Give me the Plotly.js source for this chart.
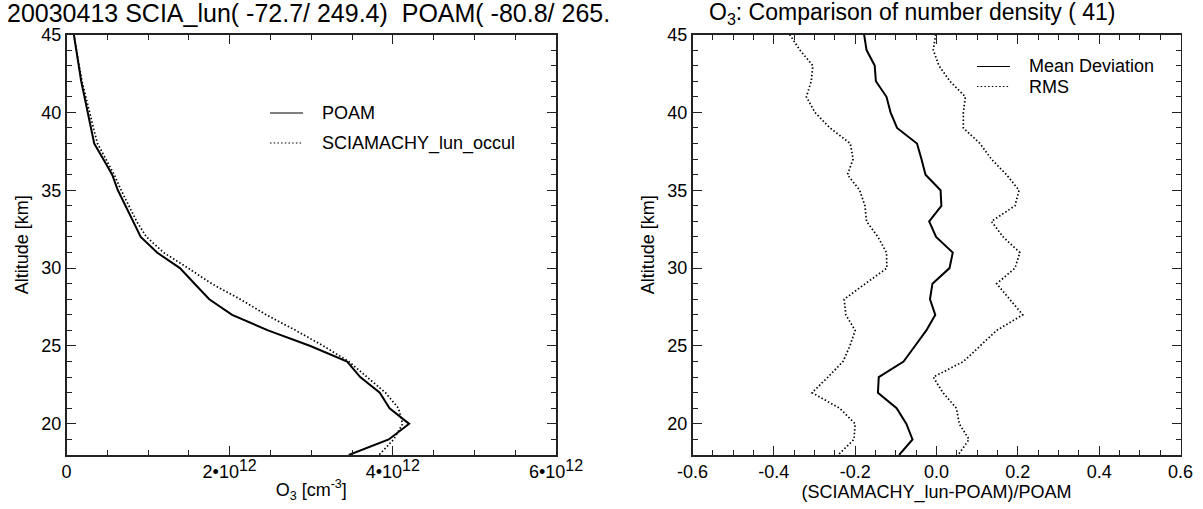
<!DOCTYPE html>
<html>
<head>
<meta charset="utf-8">
<script src="https://cdn.plot.ly/plotly-3.0.1.min.js"></script>
<style>html,body{margin:0;padding:0;background:#fff;}#chart{width:1203px;height:509px;}</style>
</head>
<body>
<div id="chart"></div>
<script>
// ---- data (altitudes in km, 45 km down to 18 km) ----
const altitude = [45,44,43,42,41,40,39,38,37,36,35,34,33,32,31,30,29,28,27,26,25,24,23,22,21,20,19,18];
// O3 number density [cm^-3]
const poam = [0.09e12,0.12e12,0.15e12,0.18e12,0.22e12,0.26e12,0.30e12,0.34e12,0.45e12,0.56e12,0.63e12,0.72e12,0.81e12,0.91e12,1.11e12,1.39e12,1.57e12,1.75e12,2.03e12,2.47e12,2.99e12,3.44e12,3.60e12,3.84e12,3.96e12,4.20e12,3.95e12,3.46e12];
const sciamachy = [0.09e12,0.12e12,0.155e12,0.19e12,0.235e12,0.28e12,0.33e12,0.38e12,0.48e12,0.585e12,0.67e12,0.76e12,0.86e12,0.98e12,1.19e12,1.49e12,1.78e12,2.13e12,2.45e12,2.81e12,3.15e12,3.46e12,3.69e12,3.91e12,4.07e12,4.12e12,4.01e12,3.83e12];
// relative difference (SCIAMACHY_lun-POAM)/POAM
const meanDeviation = [-0.178,-0.172,-0.152,-0.149,-0.123,-0.113,-0.097,-0.048,-0.037,-0.027,0.010,0.012,-0.018,-0.001,0.040,0.032,-0.010,-0.016,-0.003,-0.025,-0.053,-0.081,-0.142,-0.144,-0.098,-0.074,-0.059,-0.092];
const rmsLow = [-0.361,-0.336,-0.304,-0.308,-0.320,-0.299,-0.262,-0.212,-0.205,-0.219,-0.189,-0.176,-0.172,-0.144,-0.123,-0.122,-0.175,-0.227,-0.223,-0.200,-0.213,-0.230,-0.267,-0.306,-0.238,-0.200,-0.203,-0.242];
const rmsHigh = [-0.002,-0.008,0.006,0.033,0.071,0.066,0.066,0.107,0.135,0.172,0.203,0.193,0.135,0.164,0.205,0.193,0.148,0.180,0.212,0.148,0.107,0.066,-0.008,0.016,0.049,0.056,0.080,0.053];
// tick labels
const densityTickVals = [0, 2e12, 4e12, 6e12];
const densityTickText = ['0', '2\u202210<sup><span style="font-size:16px">12</span></sup>', '4\u202210<sup><span style="font-size:16px">12</span></sup>', '6\u202210<sup><span style="font-size:16px">12</span></sup>'];
const ratioTickVals = [-0.6,-0.4,-0.2,0.0,0.2,0.4,0.6];
const ratioTickText = ['-0.6','-0.4','-0.2','0.0','0.2','0.4','0.6'];

// ---- helpers for layout in pixels ----
const W = 1203, H = 509;
const px = v => v / W;
const py = v => 1 - v / H;
const FONT = 'Liberation Sans, Arial, sans-serif';
const DOT = '1.5px,2.2px';

const solid = {color: '#000', width: 2};
const dotted = {color: '#000', width: 1.7, dash: DOT};

const traces = [
  {x: poam, y: altitude, xaxis: 'x', yaxis: 'y', mode: 'lines', line: solid, name: 'POAM', showlegend: false},
  {x: sciamachy, y: altitude, xaxis: 'x', yaxis: 'y', mode: 'lines', line: dotted, name: 'SCIAMACHY_lun_occul', showlegend: false},
  {x: meanDeviation, y: altitude, xaxis: 'x2', yaxis: 'y2', mode: 'lines', line: solid, name: 'Mean Deviation', showlegend: false},
  {x: rmsLow, y: altitude, xaxis: 'x2', yaxis: 'y2', mode: 'lines', line: dotted, name: 'RMS', showlegend: false},
  {x: rmsHigh, y: altitude, xaxis: 'x2', yaxis: 'y2', mode: 'lines', line: dotted, name: 'RMS', showlegend: false}
];

const axisCommon = {
  showline: true, mirror: 'allticks', linecolor: '#222', linewidth: 1.5,
  ticks: 'inside', ticklen: 9, tickwidth: 1, tickcolor: '#222',
  showgrid: false, zeroline: false, fixedrange: true,
  tickfont: {family: FONT, size: 18, color: '#000'}
};

const yDomain = [py(455), py(34.5)];

const layout = {
  width: W, height: H,
  margin: {l: 0, r: 0, t: 0, b: 0},
  paper_bgcolor: '#fff', plot_bgcolor: '#fff',
  showlegend: false,
  font: {family: FONT, size: 18, color: '#000'},
  xaxis: Object.assign({}, axisCommon, {
    domain: [px(66.5), px(556)], anchor: 'y', range: [0, 6e12],
    tickmode: 'array', tickvals: densityTickVals, ticktext: densityTickText,
    minor: {tick0: 0, dtick: 5e11, ticks: 'inside', ticklen: 5, tickwidth: 1, tickcolor: '#222'},
    title: {text: 'O<sub>3</sub> [cm<sup>-3</sup>]', font: {family: FONT, size: 18}, standoff: 2}
  }),
  yaxis: Object.assign({}, axisCommon, {
    domain: yDomain, anchor: 'x', range: [18, 45],
    tickmode: 'linear', tick0: 0, dtick: 5,
    minor: {tick0: 0, dtick: 1, ticks: 'inside', ticklen: 5, tickwidth: 1, tickcolor: '#222'},
    title: {text: 'Altitude [km]', font: {family: FONT, size: 18}, standoff: 8}
  }),
  xaxis2: Object.assign({}, axisCommon, {
    domain: [px(692.5), px(1180.5)], anchor: 'y2', range: [-0.6, 0.6],
    tickmode: 'array', tickvals: ratioTickVals, ticktext: ratioTickText,
    minor: {tick0: 0, dtick: 0.05, ticks: 'inside', ticklen: 5, tickwidth: 1, tickcolor: '#222'},
    title: {text: '(SCIAMACHY_lun-POAM)/POAM', font: {family: FONT, size: 18}, standoff: 0}
  }),
  yaxis2: Object.assign({}, axisCommon, {
    domain: yDomain, anchor: 'x2', range: [18, 45],
    tickmode: 'linear', tick0: 0, dtick: 5,
    minor: {tick0: 0, dtick: 1, ticks: 'inside', ticklen: 5, tickwidth: 1, tickcolor: '#222'},
    title: {text: 'Altitude [km]', font: {family: FONT, size: 18}, standoff: 8}
  }),
  annotations: [
    {text: '20030413 SCIA_lun( -72.7/ 249.4)  POAM( -80.8/ 265.', xref: 'paper', yref: 'paper',
     x: px(5), y: py(13), xanchor: 'left', yanchor: 'middle', showarrow: false,
     font: {family: FONT, size: 25, color: '#000'}},
    {text: 'O<sub>3</sub>: Comparison of number density ( 41)', xref: 'paper', yref: 'paper',
     x: px(912), y: py(13), xanchor: 'center', yanchor: 'middle', showarrow: false,
     font: {family: FONT, size: 23, color: '#000'}},
    {text: 'POAM', xref: 'paper', yref: 'paper', x: px(320), y: py(113), xanchor: 'left', yanchor: 'middle', showarrow: false, font: {family: FONT, size: 18}},
    {text: 'SCIAMACHY_lun_occul', xref: 'paper', yref: 'paper', x: px(320), y: py(143), xanchor: 'left', yanchor: 'middle', showarrow: false, font: {family: FONT, size: 18}},
    {text: 'Mean Deviation', xref: 'paper', yref: 'paper', x: px(1027), y: py(66.5), xanchor: 'left', yanchor: 'middle', showarrow: false, font: {family: FONT, size: 18}},
    {text: 'RMS', xref: 'paper', yref: 'paper', x: px(1027), y: py(86.5), xanchor: 'left', yanchor: 'middle', showarrow: false, font: {family: FONT, size: 18}}
  ],
  shapes: [
    {type: 'line', xref: 'paper', yref: 'paper', x0: px(270), x1: px(303), y0: py(113), y1: py(113), line: {color: '#000', width: 1.2}},
    {type: 'line', xref: 'paper', yref: 'paper', x0: px(270), x1: px(303), y0: py(143), y1: py(143), line: {color: '#000', width: 1.2, dash: DOT}},
    {type: 'line', xref: 'paper', yref: 'paper', x0: px(977), x1: px(1010), y0: py(66.5), y1: py(66.5), line: {color: '#000', width: 1.2}},
    {type: 'line', xref: 'paper', yref: 'paper', x0: px(977), x1: px(1010), y0: py(86.5), y1: py(86.5), line: {color: '#000', width: 1.2, dash: DOT}}
  ]
};

Plotly.newPlot('chart', traces, layout, {staticPlot: true, displayModeBar: false});
</script>
</body>
</html>
